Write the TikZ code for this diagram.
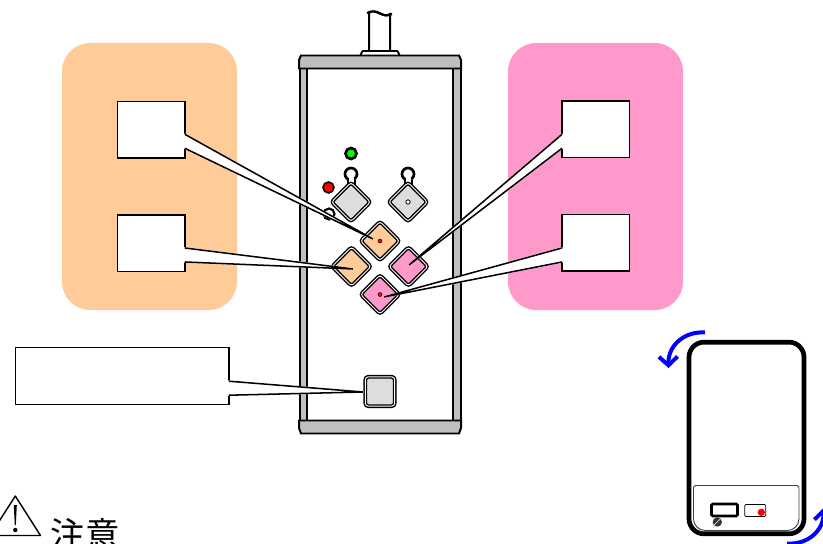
\documentclass[tikz,border=0pt]{standalone}
\usepackage{fontspec}
\newfontfamily\cjk{Noto Sans CJK JP}
\usetikzlibrary{positioning,arrows.meta,calc}

\definecolor{panelorange}{HTML}{FFCC99}
\definecolor{panelpink}{HTML}{FF99CC}
\definecolor{railgray}{HTML}{BFBFBF}
\definecolor{keygray}{HTML}{DDDDDD}

\newcommand{\pointer}[3]{%
  \filldraw[white, line width=1.4pt, line join=round] (#1) -- (#3) -- (#2) -- cycle;
  \draw[callline] (#1) -- (#3) -- (#2);
}

\begin{document}
\begin{tikzpicture}[
    x=0.03cm, y=-0.03cm,
    panel/.style={rounded corners=0.85cm, minimum width=5.25cm, minimum height=8.01cm, inner sep=0pt, outer sep=0pt},
    lblbox/.style={draw, fill=white, line width=1.3pt, minimum width=2.02cm, minimum height=1.7cm, inner sep=0pt, outer sep=0pt},
    callline/.style={line width=1.3pt, line join=miter, line cap=square},
    devline/.style={draw=black, line width=1.7pt, fill=railgray},
    key/.style={draw, rectangle, rotate=45, rounded corners=2.5pt, line width=1.2pt, double=white, double distance=0.8pt, minimum size=0.83cm, inner sep=0pt, outer sep=0pt},
    led/.style={circle, draw, line width=2.3pt, minimum size=0.33cm, inner sep=0pt, outer sep=0pt},
    turn/.style={draw=blue, line width=3.4pt, -{Straight Barb[length=2.6mm, width=5.6mm, line width=3.4pt]}},
    node distance=1.71cm
]
\clip (0,0) rectangle (823,544);

% side panels
\node[panel, fill=panelorange, anchor=north west] (orangepanel) at (62,43) {};
\node[panel, fill=panelpink, anchor=north west] (pinkpanel) at (508,43) {};

% cable and housing
\draw[line width=1.7pt, fill=white] (369,52) -- (369,13) .. controls (377,7) and (383,19) .. (390,14) -- (390,52);
\draw[line width=1.7pt] (367,13) .. controls (376,7) and (383,20) .. (392,14);
\draw[line width=1.7pt, fill=white] (360.5,55) -- (362,52) -- (363,51) -- (397,51) -- (398,52) -- (399.5,55);
\draw[devline] (299.5,68) rectangle (307,421);
\draw[devline] (453,68) rectangle (460.5,421);
\draw[devline] (299,68.5) -- (299,60) -- (301,55.5) -- (459,55.5) -- (461,60) -- (461,68.5) -- cycle;
\draw[devline] (299,420.5) -- (299,428) -- (301,433.5) -- (459,433.5) -- (461,428) -- (461,420.5) -- cycle;

% lamps
\node[led, fill=green] (lampgreen) at (351,153.5) {};
\node[led, fill=red, line width=1.3pt] (lampred) at (328.5,187.5) {};
\node[led, fill=white, line width=1.8pt] (lampwhite) at (329,214) {};

% gray keys with their eyelets
\foreach \keyname/\keyx in {keyleft/351, keyright/408} {
  \node[led, fill=white, minimum size=0.36cm] (\keyname ring) at (\keyx,174) {};
  \fill[white] (\keyx-2.5,178) rectangle (\keyx+2.5,186);
  \draw[line width=1.7pt] (\keyx-3.5,180) -- (\keyx-3.5,186) (\keyx+3.5,180) -- (\keyx+3.5,186);
  \node[key, fill=keygray] (\keyname) at (\keyx,202) {};
}
\node[circle, draw, line width=0.7pt, fill=white, minimum size=0.13cm, inner sep=0pt] (keyrightdot) at (keyright) {};

% colored keys
\node[key, fill=panelorange] (keyup) at (380,241) {};
\node[key, fill=panelorange] (keyback) at (351.5,266.5) {};
\node[key, fill=panelpink] (keyfwd) at (408.5,266.5) {};
\node[key, fill=panelpink] (keydown) at (380,294.5) {};
\node[circle, draw, line width=0.4pt, fill=red, minimum size=0.12cm, inner sep=0pt] (dotup) at (keyup) {};
\node[circle, draw, line width=0.4pt, fill=red, minimum size=0.12cm, inner sep=0pt] (dotdown) at (keydown) {};

% square key
\node[draw, rectangle, rounded corners=2.5pt, line width=1.2pt, double=white, double distance=0.8pt, fill=keygray, minimum size=0.88cm, inner sep=0pt, outer sep=0pt] (keystop) at (380,391.5) {};

% callouts
\node[lblbox, anchor=north west] (lblup) at (117.5,101.3) {};
\node[lblbox, below=of lblup] (lblback) {};
\node[lblbox, anchor=north west] (lblfwd) at (562,100.8) {};
\node[lblbox, below=of lblfwd] (lbldown) {};
\node[lblbox, minimum width=6.41cm, anchor=north west] (lblstop) at (15.3,347.7) {};

\coordinate (tipup) at (373,239);
\coordinate (tipback) at (353,269);
\coordinate (tipfwd) at (409,265);
\coordinate (tipdown) at (384,297);
\coordinate (tipstop) at (363,392);

\pointer{$(lblup.north east)+(0,33)$}{$(lblup.north east)+(0,47)$}{tipup}
\pointer{$(lblback.north east)+(0,33)$}{$(lblback.north east)+(0,47)$}{tipback}
\pointer{$(lblfwd.north west)+(0,33.5)$}{$(lblfwd.north west)+(0,47.5)$}{tipfwd}
\pointer{$(lbldown.north west)+(0,33.5)$}{$(lbldown.north west)+(0,47.5)$}{tipdown}
\pointer{$(lblstop.north east)+(0,33.5)$}{$(lblstop.north east)+(0,47.5)$}{tipstop}

% small unit
\node[draw, line width=4pt, rounded corners=0.45cm, minimum width=3.45cm, minimum height=5.75cm, inner sep=0pt, outer sep=0pt] (unit) at (746.5,438) {};
\draw[line width=0.8pt, draw=black!75, rounded corners=1.5pt] (746,485.5) -- (799,485.5) -- (799,500);
\draw[line width=0.8pt, draw=black!75, rounded corners=1.5pt] (746,485.5) -- (693.5,485.5) -- (693.5,500);
\draw[line width=0.8pt, draw=black!75, rounded corners=10pt] (693.5,500) -- (693.5,530.5) -- (799,530.5) -- (799,500);
\node[draw, fill=white, line width=2.2pt, rounded corners=1pt, minimum width=0.78cm, minimum height=0.36cm, inner sep=0pt] (unitwindow) at (724.5,510) {};
\node[draw, fill=white, line width=0.6pt, rounded corners=1pt, minimum width=0.63cm, minimum height=0.36cm, inner sep=0pt] (unitled) at (755.2,510.5) {};
\node[circle, fill=red, minimum size=0.22cm, inner sep=0pt] (unitdot) at (761.3,512.3) {};
\node[circle, fill=black!80, minimum size=0.28cm, inner sep=0pt] (unitscrew) at (717.3,522) {};
\draw[white, line width=0.5pt] (unitscrew.south west) -- (unitscrew.north east);

% turn arrows
\coordinate (turnastart) at (705,332.5);
\coordinate (turnaend) at (668.5,368);
\coordinate (turnbstart) at (787,543.5);
\coordinate (turnbend) at (823.5,508);
\draw[turn] (turnastart) .. controls (685,331) and (668,345) .. (turnaend);
\draw[turn] (turnbstart) .. controls (807,545) and (824,531) .. (turnbend);

% warning mark
\draw[line width=1.2pt, line join=round] (15.3,496) -- (40.5,535.5) -- (-10,535.5) -- cycle;
\fill (13.8,505) -- (16.8,505) -- (15.8,525) -- (14.8,525) -- cycle;
\fill (15.3,530) circle [radius=2.2];
\node[font=\cjk\fontsize{29.5}{30}\selectfont, anchor=center, inner sep=0pt] (cautiontext) at (85,534) {注意};
\end{tikzpicture}
\end{document}
